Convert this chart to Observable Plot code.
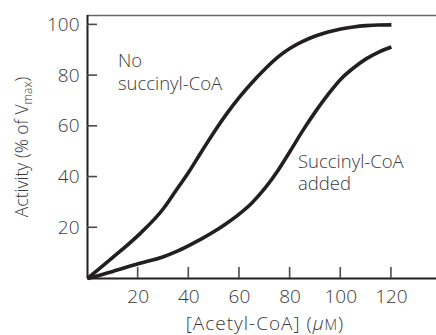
<!DOCTYPE html>
<html>
<head>
<meta charset="utf-8">
<script src="https://cdn.jsdelivr.net/npm/d3@7"></script>
<script src="https://cdn.jsdelivr.net/npm/@observablehq/plot@0.6"></script>
<style>
  html, body { margin: 0; padding: 0; background: #fff; overflow: hidden; }
  #chart svg { display: block; }
</style>
</head>
<body>
<div id="chart"></div>
<script>
// Acetyl-CoA concentration (µM)
const acetylCoA = [0, 10, 20, 30, 35, 40, 45, 50, 55, 60, 65, 70, 75, 80, 85, 90, 95, 100, 105, 110, 115, 120];
// Activity (% of Vmax), no succinyl-CoA
const noSuccinyl = [0, 8.3, 17, 27.6, 34.8, 42, 50, 57.8, 65, 71.5, 77.3, 82.5, 87.2, 90.8, 93.5, 95.6, 97.2, 98.4, 99.2, 99.7, 99.95, 100];
// Activity (% of Vmax), succinyl-CoA added
const withSuccinyl = [0, 2.8, 5.8, 8.6, 10.6, 13, 15.6, 18.5, 21.8, 25.5, 29.9, 35.5, 42.3, 50.2, 58.3, 65.8, 72.6, 78.6, 83, 86.6, 89.3, 91.3];

const xTicks = [20, 40, 60, 80, 100, 120];
const yTicks = [20, 40, 60, 80, 100];

const labelText = ["No", "succinyl-CoA", "Succinyl-CoA", "added"];
const labelX = [12, 12, 83.1, 83.1];
const labelY = [83.2, 74.2, 43.4, 35.0];

const xMax = 137.8;
const yMax = 103.7;

const series = [
  ...acetylCoA.map((x, i) => ({x, y: noSuccinyl[i], s: "No succinyl-CoA"})),
  ...acetylCoA.map((x, i) => ({x, y: withSuccinyl[i], s: "Succinyl-CoA added"}))
];
const labels = labelText.map((t, i) => ({t, x: labelX[i], y: labelY[i]}));

const ink = "#231f20";
const textInk = "#3a3a3a";

const plot = Plot.plot({
  width: 436,
  height: 335,
  marginLeft: 87,
  marginRight: 0,
  marginTop: 15,
  marginBottom: 57,
  style: {fontFamily: "'Open Sans', sans-serif", fontWeight: 300, background: "#fff", overflow: "visible"},
  x: {domain: [0, xMax], label: null},
  y: {domain: [0, yMax], label: null},
  marks: [
    // tick labels
    Plot.axisX(xTicks, {tickSize: 0, tickPadding: 11, fontSize: 19, fill: textInk, label: null}),
    Plot.axisY(yTicks, {tickSize: 0, tickPadding: 8, fontSize: 19, fill: textInk, label: null}),
    // top border line
    Plot.ruleY([yMax], {stroke: "#666", strokeWidth: 1.4}),
    // axis lines
    Plot.ruleX([0], {stroke: ink, strokeWidth: 2}),
    Plot.ruleY([0], {stroke: ink, strokeWidth: 2}),
    // curves
    Plot.line(series, {x: "x", y: "y", z: "s", stroke: ink, strokeWidth: 3.6, curve: "monotone-x", strokeLinecap: "butt"}),
    // annotations
    Plot.text(labels, {x: "x", y: "y", text: "t", textAnchor: "start", lineAnchor: "bottom", fontSize: 18.5, fill: textInk})
  ]
});

const svg = d3.select(plot);
const sx = plot.scale("x"), sy = plot.scale("y");
const x0 = sx.apply(0), y0 = sy.apply(0);

// inward tick marks, positioned through Plot's own scales
const tg = svg.append("g").attr("stroke", "#4a4a4a").attr("stroke-width", 1.6);
tg.selectAll("line.xt").data(xTicks).join("line")
  .attr("x1", d => sx.apply(d)).attr("x2", d => sx.apply(d))
  .attr("y1", y0).attr("y2", y0 - 11);
tg.selectAll("line.yt").data(yTicks).join("line")
  .attr("y1", d => sy.apply(d)).attr("y2", d => sy.apply(d))
  .attr("x1", x0).attr("x2", x0 + 10);

// axis titles with rich text (italic µ, small-cap M, subscript max)
const xt = svg.append("text")
  .attr("x", 265).attr("y", 329.5)
  .attr("text-anchor", "middle")
  .attr("font-size", 19)
  .attr("letter-spacing", 1)
  .attr("fill", textInk);
xt.append("tspan").text("[Acetyl-CoA] (");
xt.append("tspan").attr("font-style", "italic").text("μ");
xt.append("tspan").attr("font-size", 14.5).text("M");
xt.append("tspan").text(")");

const yt = svg.append("text")
  .attr("transform", "translate(28,147) rotate(-90)")
  .attr("text-anchor", "middle")
  .attr("font-size", 17.5)
  .attr("fill", textInk);
yt.append("tspan").text("Activity (% of V");
yt.append("tspan").attr("font-size", 12).attr("dy", 4).text("max");
yt.append("tspan").attr("dy", -4).text(")");

document.getElementById("chart").appendChild(plot);
</script>
</body>
</html>
